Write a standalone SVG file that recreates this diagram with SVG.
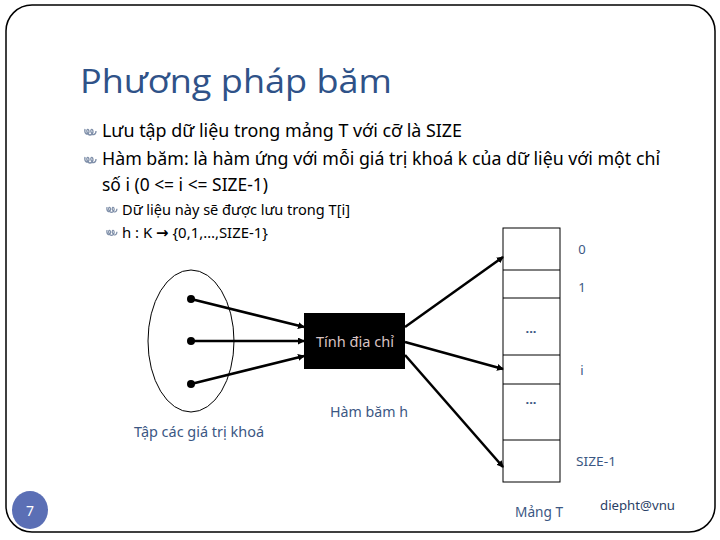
<svg xmlns="http://www.w3.org/2000/svg" width="720" height="540" viewBox="0 0 720 540">
<style>
.body{font-family:"Noto Sans","Liberation Sans",sans-serif;fill:#000}
.lbl{font-family:"Noto Sans","Liberation Sans",sans-serif;fill:#3b5783}
.ln{stroke:#000;stroke-width:2.5;fill:none}
.bul{fill:none;stroke:#7f8fa9;stroke-width:1.3}
</style>
<defs>
<marker id="ah" markerWidth="7" markerHeight="7" refX="6" refY="3.5" orient="auto" markerUnits="userSpaceOnUse">
<path d="M0,0 L7,3.5 L0,7 Z" fill="#000"/>
</marker>
<g id="bullet">
<path d="M0,0 C-1,5 3,7 4,3 C4,-1 1,0 2,3 C3,7 7,7 8,3 C8,-1 5,0 6,3 C7,7 11,6 11,2" />
</g>
</defs>
<rect x="6" y="5" width="709" height="527" rx="26" ry="26" fill="#fff" stroke="#000" stroke-width="1.5"/>

<g id="title">
<text x="80" y="93" font-family="'Open Sans','Noto Sans',sans-serif" font-size="33" fill="#2f5288" textLength="312" lengthAdjust="spacingAndGlyphs">Phương pháp băm</text>
</g>

<g id="bullets">
<use href="#bullet" x="85" y="129" class="bul"/>
<text class="body" x="102" y="137" font-size="18" textLength="360" lengthAdjust="spacingAndGlyphs">Lưu tập dữ liệu trong mảng T với cỡ là SIZE</text>
<use href="#bullet" x="85" y="157" class="bul"/>
<text class="body" x="102" y="165" font-size="18" textLength="558" lengthAdjust="spacingAndGlyphs">Hàm băm: là hàm ứng với mỗi giá trị khoá k của dữ liệu với một chỉ</text>
<text class="body" x="102" y="191" font-size="18" textLength="166" lengthAdjust="spacingAndGlyphs">số i (0 &lt;= i &lt;= SIZE-1)</text>
<use href="#bullet" x="107" y="207" class="bul" transform="translate(10.7,20.7) scale(0.9)"/>
<text class="body" x="122" y="215" font-size="15" textLength="228" lengthAdjust="spacingAndGlyphs">Dữ liệu này sẽ được lưu trong T[i]</text>
<use href="#bullet" x="107" y="230" class="bul" transform="translate(10.7,23) scale(0.9)"/>
<text class="body" x="122" y="238" font-size="15" textLength="146" lengthAdjust="spacingAndGlyphs">h : K <tspan font-weight="bold" font-family="'DejaVu Sans',sans-serif">→</tspan> {0,1,…,SIZE-1}</text>
</g>

<g id="keyset">
<ellipse cx="191" cy="341" rx="43" ry="71" fill="none" stroke="#000" stroke-width="1"/>
<circle cx="191" cy="299" r="4" fill="#000"/>
<circle cx="191" cy="341" r="4" fill="#000"/>
<circle cx="191" cy="384" r="4" fill="#000"/>
<text class="lbl" x="134" y="437" font-size="14" textLength="130" lengthAdjust="spacingAndGlyphs">Tập các giá trị khoá</text>
</g>

<g id="hashbox">
<rect x="304" y="313" width="101" height="56" fill="#000"/>
<text x="355" y="347" text-anchor="middle" font-family="'Noto Sans','Liberation Sans',sans-serif" font-size="14" fill="#d9c3c3" textLength="78" lengthAdjust="spacingAndGlyphs">Tính địa chỉ</text>
<text class="lbl" x="330" y="417" font-size="14" textLength="78" lengthAdjust="spacingAndGlyphs">Hàm băm h</text>
</g>

<g id="array">
<rect x="503" y="228" width="57" height="254" fill="#fff" stroke="#000" stroke-width="1"/>
<line x1="503" y1="270" x2="560" y2="270" stroke="#000" stroke-width="1"/>
<line x1="503" y1="298" x2="560" y2="298" stroke="#000" stroke-width="1"/>
<line x1="503" y1="355" x2="560" y2="355" stroke="#000" stroke-width="1"/>
<line x1="503" y1="384" x2="560" y2="384" stroke="#000" stroke-width="1"/>
<line x1="503" y1="440" x2="560" y2="440" stroke="#000" stroke-width="1"/>
<text class="lbl" x="531" y="333" font-size="13" font-weight="bold" text-anchor="middle">...</text>
<text class="lbl" x="531" y="404" font-size="13" font-weight="bold" text-anchor="middle">...</text>
<text class="lbl" x="582" y="254" font-size="13" text-anchor="middle">0</text>
<text class="lbl" x="582" y="292" font-size="13" text-anchor="middle">1</text>
<text class="lbl" x="582" y="375" font-size="13" text-anchor="middle">i</text>
<text class="lbl" x="576" y="466" font-size="13" textLength="40" lengthAdjust="spacingAndGlyphs">SIZE-1</text>
<text class="lbl" x="515" y="517" font-size="14" textLength="48" lengthAdjust="spacingAndGlyphs">Mảng T</text>
</g>

<g id="connectors">
<line class="ln" x1="191" y1="299" x2="304" y2="327" marker-end="url(#ah)"/>
<line class="ln" x1="191" y1="341" x2="304" y2="341" marker-end="url(#ah)"/>
<line class="ln" x1="191" y1="384" x2="304" y2="356" marker-end="url(#ah)"/>
<line class="ln" x1="405" y1="327" x2="503" y2="257" marker-end="url(#ah)"/>
<line class="ln" x1="405" y1="342" x2="503" y2="369" marker-end="url(#ah)"/>
<line class="ln" x1="405" y1="355" x2="503" y2="467" marker-end="url(#ah)"/>
</g>

<g id="footer">
<ellipse cx="30" cy="510" rx="18" ry="19" fill="#5b6fb5"/>
<text x="30" y="516" text-anchor="middle" font-family="'Noto Sans',sans-serif" font-size="14" fill="#fff">7</text>
<text x="600" y="510" font-family="'Noto Sans','Liberation Sans',sans-serif" font-size="13" fill="#2a3f66" textLength="75" lengthAdjust="spacingAndGlyphs">diepht@vnu</text>
</g>
</svg>
